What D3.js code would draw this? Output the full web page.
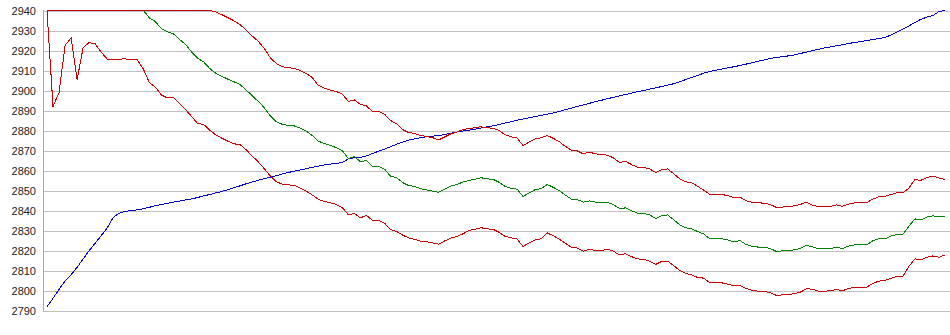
<!DOCTYPE html>
<html>
<head>
<meta charset="utf-8">
<script src="https://cdn.jsdelivr.net/npm/d3@7/dist/d3.min.js"></script>
<style>
  html, body { margin: 0; padding: 0; background: #fff; }
  svg { display: block; }
  .tick text { font-family: "Liberation Sans", Arial, sans-serif; font-size: 11px; fill: #222; }
</style>
</head>
<body>
<svg id="chart" width="950" height="335"></svg>
<script>
// ---- data ----
const yTicks = [2790, 2800, 2810, 2820, 2830, 2840, 2850, 2860, 2870, 2880, 2890, 2900, 2910, 2920, 2930, 2940];

const blueSeries = [
2792,2796.1,2800.6,2804.7,2807.9,2811.6,2815.8,2819.9,2823.7,2827.4,
2831.4,2836.6,2838.7,2839.5,2840.0,2840.3,2840.9,2841.6,2842.4,2843.0,
2843.6,2844.2,2844.7,2845.3,2845.8,2846.5,2847.3,2848.0,2848.8,2849.5,
2850.4,2851.4,2852.3,2853.3,2854.2,2855.1,2855.9,2856.6,2857.4,2858.2,
2859.0,2859.6,2860.3,2860.9,2861.6,2862.2,2862.8,2863.2,2863.5,2864.0,
2865.8,2866.4,2866.6,2867.3,2868.5,2869.6,2870.7,2871.9,2873.1,2874.2,
2875.2,2875.8,2876.4,2876.9,2877.2,2877.4,2878.0,2878.6,2879.2,2879.7,
2880.2,2880.6,2881.2,2881.8,2882.3,2883.0,2883.7,2884.4,2885.1,2885.8,
2886.4,2887.0,2887.6,2888.2,2888.8,2889.5,2890.4,2891.2,2892.0,2892.8,
2893.6,2894.4,2895.1,2895.9,2896.6,2897.3,2898.0,2898.7,2899.4,2900.0,
2900.7,2901.3,2902.0,2902.7,2903.4,2904.4,2905.5,2906.6,2907.6,2908.7,
2909.5,2910.1,2910.7,2911.3,2911.9,2912.5,2913.2,2913.9,2914.6,2915.3,
2916.0,2916.5,2916.9,2917.3,2917.8,2918.5,2919.2,2919.9,2920.6,2921.3,
2921.8,2922.4,2922.9,2923.5,2924.0,2924.5,2925.0,2925.5,2926.0,2926.5,
2927.7,2929.2,2930.7,2932.3,2934.0,2935.6,2936.7,2937.5,2939.5,2940.0
];

const middleSeries = [
2940,2940,2940,2940,2940,2940,2940,2940,2940,2940,
2940,2940,2940,2940,2940,2940,2940,2936.3,2934.4,2930.8,
2929.4,2928.3,2925.5,2923.0,2919.2,2916.1,2914.3,2911.0,2908.6,2907.1,
2905.7,2904.4,2903.0,2900.4,2897.5,2894.7,2891.6,2887.5,2884.5,2883.1,
2882.5,2882.3,2881.2,2879.7,2877.5,2874.7,2873.5,2872.6,2871.4,2869.9,
2866.0,2867.0,2864.4,2865.0,2862.0,2862.0,2860.7,2857.2,2856.4,2854.0,
2852.5,2852.0,2850.9,2850.3,2849.7,2849.1,2850.6,2852.2,2853.0,2854.2,
2855.0,2855.6,2856.4,2855.8,2855.6,2854.1,2852.1,2851.1,2850.7,2847.0,
2848.8,2850.4,2850.9,2853.0,2851.6,2849.9,2847.7,2845.7,2845.4,2844.2,
2844.8,2844.2,2844.1,2844.0,2842.9,2841.0,2841.3,2839.8,2838.7,2838.6,
2837.8,2836.0,2837.4,2837.8,2835.3,2832.8,2831.4,2830.8,2829.4,2828.2,
2825.8,2825.8,2825.8,2825.2,2824.3,2825.0,2823.0,2822.1,2821.7,2821.6,
2821.0,2819.6,2819.8,2820.0,2820.3,2821.0,2822.6,2821.9,2820.8,2820.8,
2820.9,2821.7,2821.0,2822.2,2822.8,2822.8,2822.8,2824.8,2825.8,2825.8,
2827.2,2828.0,2828.0,2832.1,2835.8,2835.3,2836.7,2837.3,2836.8,2837.0
];

const upperSeries = [
2940,2940,2940,2940,2940,2940,2940,2940,2940,2940,
2940,2940,2940,2940,2940,2940,2940,2940,2940,2940,
2940,2940,2940,2940,2940,2940,2940,2940,2939.4,2937.9,
2936.4,2934.9,2933.0,2930.4,2927.4,2924.7,2921.3,2916.6,2913.6,2912.0,
2911.3,2911.2,2910.0,2908.5,2906.5,2902.6,2901.1,2900.2,2899.5,2898.2,
2894.5,2895.3,2893.0,2892.3,2889.5,2889.5,2888.2,2885.0,2883.4,2880.5,
2879.0,2878.5,2877.5,2877.0,2876.4,2875.3,2876.8,2878.3,2879.2,2880.4,
2881.1,2881.3,2881.9,2881.3,2881.2,2880.0,2877.9,2876.9,2876.2,2872.5,
2874.2,2875.8,2876.4,2877.5,2876.1,2874.4,2872.1,2870.2,2869.8,2868.3,
2869.2,2868.3,2868.1,2867.6,2866.3,2864.0,2864.6,2862.9,2861.7,2861.6,
2860.8,2859.0,2860.4,2860.8,2858.3,2855.8,2854.4,2853.8,2852.0,2850.1,
2848.0,2848.0,2848.0,2847.4,2846.3,2846.7,2844.9,2844.1,2843.8,2843.7,
2843.0,2841.6,2841.7,2842.0,2842.3,2843.0,2844.2,2842.7,2842.0,2842.0,
2842.1,2842.8,2842.1,2843.2,2843.8,2843.8,2843.8,2845.7,2846.8,2847.0,
2848.0,2848.8,2848.8,2851.2,2855.4,2855.1,2856.5,2857.2,2856.2,2855.5
];

const lowerSeries = [
2940,2892,2899,2922.5,2926.3,2905.5,2921.5,2924.0,2923.3,2919.1,
2915.7,2915.7,2915.7,2915.8,2915.4,2915.3,2910.7,2903.9,2901.6,2897.7,
2896.3,2896.5,2893.5,2890.4,2887.0,2883.5,2883.0,2880.2,2877.8,2876.2,
2874.7,2873.3,2873.1,2870.5,2867.4,2864.5,2861.1,2857.5,2854.5,2853.2,
2852.8,2852.6,2851.3,2849.7,2847.8,2845.6,2844.6,2843.9,2843.0,2841.5,
2837.8,2838.6,2836.3,2837.6,2835.0,2835.0,2833.7,2830.5,2829.5,2827.7,
2826.3,2825.6,2824.7,2824.4,2823.8,2823.2,2824.8,2826.2,2827.0,2828.3,
2830.0,2830.6,2831.4,2830.8,2830.6,2829.1,2827.1,2826.4,2825.7,2822.0,
2823.8,2825.3,2825.9,2828.8,2827.4,2825.6,2823.7,2821.6,2821.2,2819.7,
2820.6,2820.0,2820.0,2820.6,2819.6,2817.8,2818.4,2816.9,2815.8,2815.6,
2814.7,2813.0,2814.6,2814.7,2812.4,2810.0,2808.5,2807.8,2806.4,2806.2,
2803.8,2803.8,2803.8,2803.1,2802.3,2802.5,2801.0,2800.0,2799.7,2799.6,
2798.9,2797.6,2797.8,2798.0,2798.4,2799.2,2800.8,2800.7,2799.7,2799.7,
2799.8,2800.5,2799.9,2801.0,2801.7,2801.7,2801.7,2803.5,2804.7,2805.0,
2806.0,2807.0,2807.0,2812.0,2815.8,2815.4,2816.6,2817.3,2816.6,2817.8
];

// ---- chart ----
const W = 950, H = 335;
const svg = d3.select("#chart");
const n = blueSeries.length;

const x = d3.scaleLinear().domain([0, n - 1]).range([47, 945]);
const y = d3.scaleLinear().domain([2790, 2940]).range([310.5, 10.5]);

// gridlines + labels via axis
const yAxis = d3.axisLeft(y).tickValues(yTicks).tickSize(-(W - 43)).tickPadding(7).tickFormat(d3.format("d"));
const gAxis = svg.append("g").attr("transform", "translate(43,0)").call(yAxis);
gAxis.select(".domain").remove();
gAxis.selectAll(".tick line").attr("stroke", "#c0c0c0").attr("shape-rendering", "crispEdges");
gAxis.selectAll(".tick text").attr("text-anchor", "end").attr("dy", "0.35em");

// vertical axis line
svg.append("line")
  .attr("x1", 43.5).attr("x2", 43.5)
  .attr("y1", y(2940) - 0.5).attr("y2", y(2790) + 0.5)
  .attr("stroke", "#a8a8a8").attr("shape-rendering", "crispEdges");

const line = d3.line().x((d, i) => x(i)).y(d => y(Math.min(d, 2940)));

const series = [
  { data: blueSeries, color: "#0000cc" },
  { data: middleSeries, color: "#008000" },
  { data: lowerSeries, color: "#cc0000" },
  { data: upperSeries, color: "#cc0000" }
];

svg.selectAll("path.series").data(series).enter().append("path")
  .attr("class", "series")
  .attr("d", d => line(d.data))
  .attr("fill", "none")
  .attr("stroke", d => d.color)
  .attr("stroke-width", 1)
  .attr("shape-rendering", "crispEdges");
</script>
</body>
</html>
